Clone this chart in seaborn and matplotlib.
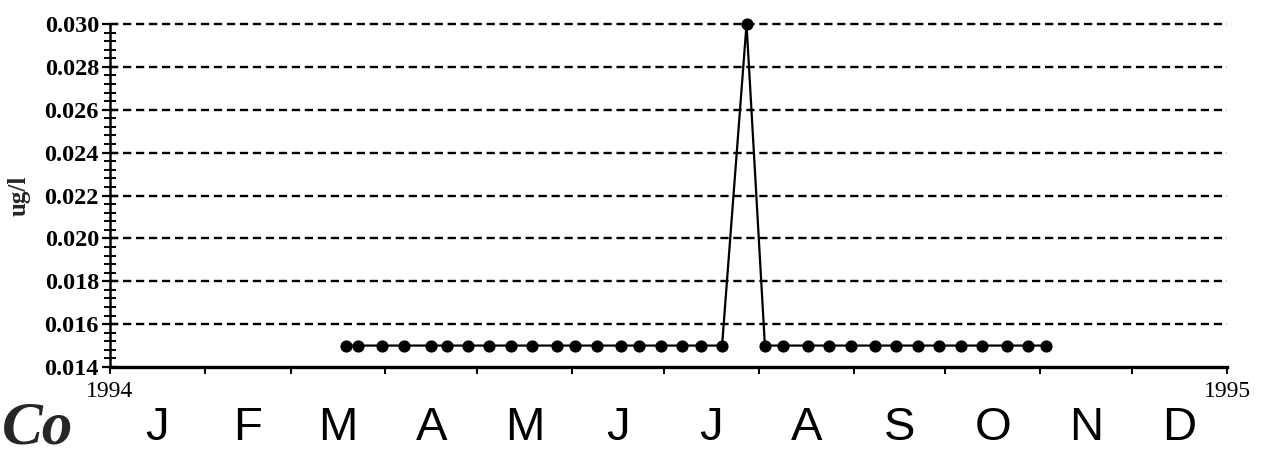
import matplotlib
matplotlib.use("Agg")
import matplotlib.pyplot as plt
import matplotlib.ticker as mticker
import numpy as np
import pandas as pd
import seaborn as sns

# Cobalt concentration, weekly samples during 1994
sample_dates = [
    "1994-03-19", "1994-03-23", "1994-03-31", "1994-04-07", "1994-04-16",
    "1994-04-21", "1994-04-28", "1994-05-05", "1994-05-12", "1994-05-19",
    "1994-05-27", "1994-06-02", "1994-06-09", "1994-06-17", "1994-06-23",
    "1994-06-30", "1994-07-07", "1994-07-13", "1994-07-20", "1994-07-28",
    "1994-08-03", "1994-08-09", "1994-08-17", "1994-08-24", "1994-08-31",
    "1994-09-08", "1994-09-15", "1994-09-22", "1994-09-29", "1994-10-06",
    "1994-10-13", "1994-10-21", "1994-10-28", "1994-11-03",
]
cobalt_ugl = [
    0.015, 0.015, 0.015, 0.015, 0.015,
    0.015, 0.015, 0.015, 0.015, 0.015,
    0.015, 0.015, 0.015, 0.015, 0.015,
    0.015, 0.015, 0.015, 0.015, 0.030,
    0.015, 0.015, 0.015, 0.015, 0.015,
    0.015, 0.015, 0.015, 0.015, 0.015,
    0.015, 0.015, 0.015, 0.015,
]
month_letters = ["J", "F", "M", "A", "M", "J", "J", "A", "S", "O", "N", "D"]
year_labels = ["1994", "1995"]
y_ticks = [0.014, 0.016, 0.018, 0.020, 0.022, 0.024, 0.026, 0.028, 0.030]

df = pd.DataFrame({"date": pd.to_datetime(sample_dates), "value": cobalt_ugl})

sns.set_style("ticks")
plt.rcParams["font.family"] = ["Liberation Serif", "DejaVu Serif"]

fig = plt.figure(figsize=(12.63, 4.55), dpi=100)
ax = fig.add_axes([110 / 1263, 1 - 367 / 455, (1227 - 110) / 1263, (367 - 24) / 455])

sns.lineplot(data=df, x="date", y="value", ax=ax, color="black", linewidth=1.6,
             marker="o", markersize=8, markeredgecolor="black",
             markerfacecolor="black", zorder=3, clip_on=False)

start = pd.Timestamp("1994-01-01")
end = pd.Timestamp("1995-01-01")
ax.set_xlim(start, end)
ax.set_ylim(y_ticks[0], y_ticks[-1])

# y axis: major ticks with dashed grid, fine minor ticks
ax.set_yticks(y_ticks)
ax.yaxis.set_major_formatter(mticker.FormatStrFormatter("%.3f"))
ax.yaxis.set_minor_locator(mticker.MultipleLocator(0.0004))
ax.tick_params(axis="y", which="major", direction="inout", length=12, width=1.6,
               labelsize=17.5, pad=2, color="black", labelcolor="black")
ax.tick_params(axis="y", which="minor", direction="inout", length=8, width=1.4,
               color="black")
for lab in ax.get_yticklabels():
    lab.set_fontweight("bold")
for yv in y_ticks[1:]:
    ax.axhline(yv, color="black", linewidth=1.7, dashes=(3.5, 2.0), zorder=1,
               clip_on=False)

# x axis: month boundaries as major ticks, month initials at mid-month
month_starts = pd.date_range(start, end, freq="MS")
month_mids = [s + (e - s) / 2 for s, e in zip(month_starts[:-1], month_starts[1:])]
ax.set_xticks(month_starts)
ax.set_xticklabels([year_labels[0]] + [""] * 11 + [year_labels[1]])
ax.set_xticks(month_mids, minor=True)
ax.set_xticklabels(month_letters, minor=True,
                   fontfamily=["Liberation Sans", "DejaVu Sans"])
ax.tick_params(axis="x", which="major", direction="out", length=5, width=1.4,
               pad=5, labelsize=17, color="black", labelcolor="black")
ax.tick_params(axis="x", which="minor", length=0, pad=28, labelsize=34,
               labelcolor="black")

ax.set_xlabel("")
ax.set_ylabel("ug/l", fontsize=18, fontweight="bold", labelpad=10)

sns.despine(ax=ax)
ax.spines["left"].set_linewidth(1.8)
ax.spines["bottom"].set_linewidth(2.4)
ax.spines["left"].set_color("black")
ax.spines["bottom"].set_color("black")

fig.text(2 / 1263, 1 - 443 / 455, "Co", fontsize=44, fontweight="bold",
         fontstyle="italic", va="baseline", ha="left")

fig.savefig("out.png", dpi=100, facecolor="white")
